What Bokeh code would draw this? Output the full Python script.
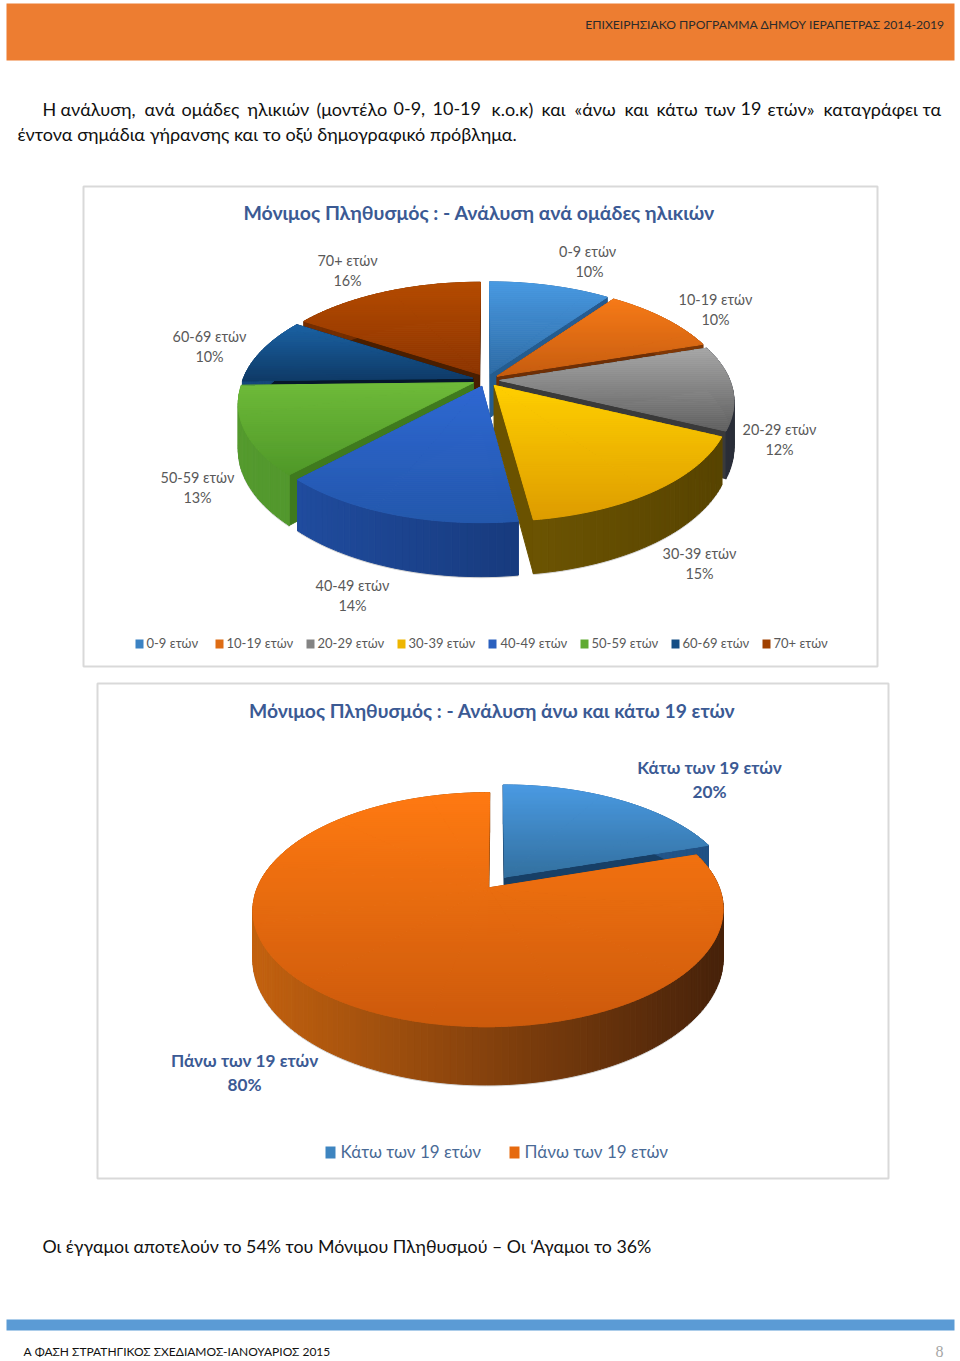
import math
from bokeh.plotting import figure
from bokeh.models import Range1d
from bokeh.core.properties import value
from bokeh.embed import file_html
from bokeh.resources import INLINE

# ---------- data ----------
age_groups = ["0-9  ετών", "10-19 ετών", "20-29 ετών", "30-39 ετών", "40-49 ετών", "50-59 ετών", "60-69 ετών", "70+ ετών"]
age_pct = [10, 10, 12, 15, 14, 13, 10, 16]
split_groups = ["Κάτω των 19 ετών", "Πάνω των 19 ετών"]
split_pct = [20, 80]
title_ages = "Μόνιμος Πληθυσμός :  - Ανάλυση ανά ομάδες ηλικιών"
title_split = "Μόνιμος Πληθυσμός :  - Ανάλυση άνω και κάτω 19 ετών"
header_text = "ΕΠΙΧΕΙΡΗΣΙΑΚΟ ΠΡΟΓΡΑΜΜΑ ΔΗΜΟΥ ΙΕΡΑΠΕΤΡΑΣ 2014-2019"
body_1_words = ["Η", "ανάλυση,", "ανά", "ομάδες", "ηλικιών", "(μοντέλο", "0-9,", "10-19", "κ.ο.κ)", "και", "«άνω", "και", "κάτω", "των", "19", "ετών»", "καταγράφει", "τα"]
body_2 = "έντονα σημάδια γήρανσης και το οξύ δημογραφικό πρόβλημα."
body_3 = "Οι έγγαμοι αποτελούν το 54% του Μόνιμου Πληθυσμού – Οι ‘Αγαμοι το 36%"
footer_text = "Α ΦΑΣΗ ΣΤΡΑΤΗΓΙΚΟΣ ΣΧΕΔΙΑΜΟΣ-ΙΑΝΟΥΑΡΙΟΣ 2015"
page_no = "8"

# ---------- style: top gradient (start,end), wall gradient (left,right), cut face ----------
age_styles = [
    ("#4a9ae2", "#2c6aa4", "#3a7dbb", "#1f4e80", "#245c8f"),
    ("#f67a18", "#c65d10", "#b35210", "#7a3506", "#6e2f06"),
    ("#a8a8a8", "#5f5f5f", "#40444e", "#2a2e38", "#3a3a3a"),
    ("#ffcf00", "#dd9c00", "#8a6c05", "#574300", "#6a5200"),
    ("#2f68d2", "#2458ac", "#2250a6", "#0f2a5e", "#1c468e"),
    ("#6fbb3a", "#4f9828", "#549a2e", "#3f7f24", "#3f7a1e"),
    ("#1b62a4", "#0f3a66", "#16497c", "#0c2a4c", "#06182c"),
    ("#b54c00", "#8c3400", "#7a3000", "#5a2400", "#4a1e00"),
]
split_styles = [
    ("#4a9ae2", "#33709f", "#3a7dbb", "#1f4e80", "#173f66"),
    ("#ff7a12", "#cc5a0c", "#c2610f", "#43200a", "#8a4408"),
]

def hx(c):
    return [int(c[i:i + 2], 16) for i in (1, 3, 5)]

def mix(a, b, t):
    t = max(0.0, min(1.0, t))
    ca, cb = hx(a), hx(b)
    return "#%02x%02x%02x" % tuple(round(u + (v - u) * t) for u, v in zip(ca, cb))

def clip(poly, lim, keep_above):
    out = []
    n = len(poly)
    for i in range(n):
        a, b = poly[i], poly[(i + 1) % n]
        ina = a[1] >= lim if keep_above else a[1] <= lim
        inb = b[1] >= lim if keep_above else b[1] <= lim
        if ina:
            out.append(a)
        if ina != inb:
            t = (lim - a[1]) / (b[1] - a[1])
            out.append((a[0] + (b[0] - a[0]) * t, lim))
    return out

PATCH_X, PATCH_Y, PATCH_C = [], [], []

def add(poly, color):
    PATCH_X.append([q[0] for q in poly])
    PATCH_Y.append([q[1] for q in poly])
    PATCH_C.append(color)

def pie3d(values, styles, cx, cy, rx, ry, persp, depth, expl, warp):
    total = sum(values)

    def view_angle(a):
        # the tilted view slightly drags the front-left of the disc round
        lo, hi = math.radians(115), math.radians(302)
        if warp and lo < a < hi:
            return a + math.radians(warp) * math.sin((a - lo) / (hi - lo) * math.pi)
        return a

    slices, acc = [], 0.0
    for v, st in zip(values, styles):
        a0 = acc / total * 2 * math.pi
        acc += v
        a1 = acc / total * 2 * math.pi
        slices.append((view_angle(a0), view_angle(a1), st))

    def proj(X, Y):
        s = 1 / (1 + persp * Y)
        return (cx + rx * X * s, cy - ry * Y * s, depth * s)

    slices.sort(key=lambda w: -math.cos((w[0] + w[1]) / 2))
    xmin, xmax = cx - rx * 1.05, cx + rx * 1.05
    for a0, a1, st in slices:
        mid = (a0 + a1) / 2
        ox, oy = expl * math.sin(mid), expl * math.cos(mid)
        apex = proj(ox, oy)
        n = max(8, int((a1 - a0) / (2 * math.pi) * 240))
        angs = [a0 + (a1 - a0) * i / n for i in range(n + 1)]
        arc = [proj(ox + math.sin(a), oy + math.cos(a)) for a in angs]
        # soft contact shadow under the front wall
        for i in range(n):
            if math.cos(angs[i]) < 0.1:
                p0, p1 = arc[i], arc[i + 1]
                add([(p0[0], p0[1] + p0[2]), (p1[0], p1[1] + p1[2]), (p1[0], p1[1] + p1[2] + 1), (p0[0], p0[1] + p0[2] + 1)], "#d4d4d4")
        # radial cut faces
        for e in (arc[0], arc[-1]):
            add([(apex[0], apex[1]), (e[0], e[1]), (e[0], e[1] + e[2]), (apex[0], apex[1] + apex[2])], st[4])
        # outer wall
        for i in range(n):
            p0, p1 = arc[i], arc[i + 1]
            t = ((p0[0] + p1[0]) / 2 - xmin) / (xmax - xmin)
            add([(p0[0], p0[1]), (p1[0], p1[1]), (p1[0], p1[1] + p1[2]), (p0[0], p0[1] + p0[2])], mix(st[2], st[3], t))
        # top face in horizontal gradient bands, split into convex sectors
        ys = [apex[1]] + [q[1] for q in arc]
        ymin, ymax = min(ys), max(ys)
        y = ymin
        step = 2.0
        while y < ymax:
            col = mix(st[0], st[1], (y - ymin) / (ymax - ymin))
            chunk = 20
            for k in range(0, n, chunk):
                sector = [(apex[0], apex[1])] + [(q[0], q[1]) for q in arc[k:k + chunk + 1]]
                band = clip(clip(sector, y, True), y + step, False)
                if len(band) >= 3:
                    add(band, col)
            y += step

# ---------- page ----------
p = figure(width=960, height=1361, x_range=Range1d(0, 960), y_range=Range1d(1361, 0),
           output_backend="svg", toolbar_location=None, min_border=0, outline_line_color=None)
p.xaxis.visible = False
p.yaxis.visible = False
p.grid.visible = False
p.background_fill_color = "white"
p.border_fill_color = "white"

FONT = "Lato"

def txt(x, y, s, size, color, align="center", font=FONT, bold=False):
    p.text([x], [y - 1], text=[s], text_font=value(font), text_font_size=f"{size}px", text_color=color,
           text_align=align, text_baseline="middle", text_font_style="bold" if bold else "normal")

# bands
p.quad(left=[6], right=[954], top=[3], bottom=[60], fill_color="#ed7d31", line_color=None)
p.quad(left=[6], right=[954], top=[1319], bottom=[1330], fill_color="#5b9bd5", line_color=None)
txt(944, 25, header_text, 12.15, "#2b2b2b", "right")
word_x = [42, 60, 144, 181, 247, 316, 393, 432, 491, 541, 574, 624, 656, 704, 740, 767, 823, 922]
for bx, word in zip(word_x, body_1_words):
    txt(bx, 109, word, 18, "#111111", "left")
txt(17, 134, body_2, 18, "#111111", "left")
txt(42, 1246, body_3, 17.8, "#111111", "left")
txt(23, 1352, footer_text, 12, "#111111", "left")
txt(939, 1352, page_no, 16, "#a6a6a6", "center", "Liberation Serif")

# chart frames
p.quad(left=[83, 97], right=[877, 888], top=[186, 683], bottom=[666, 1178], fill_color="white",
       line_color="#d9d9d9", line_width=2)

# pies
pie3d(age_pct, age_styles, 485.5, 379.5, 230, 110, 0.175, 44, 0.06, 4)
pie3d(split_pct, split_styles, 496, 882, 229, 111, 0.184, 47, 0.06, 0)
p.patches(PATCH_X, PATCH_Y, fill_color=PATCH_C, line_color=PATCH_C, line_width=1)

# chart 1 texts
TITLE = "#3b5a94"
GREY = "#595959"
txt(481, 213, title_ages, 19.5, TITLE, bold=True)
lab_pos = [(589, 252), (715, 300), (779, 430), (699, 554), (352, 586), (197, 478), (209, 337), (347, 261)]
for (lx, ly), name, pct in zip(lab_pos, age_groups, age_pct):
    txt(lx, ly, name, 14.4, GREY)
    txt(lx, ly + 20, f"{pct}%", 14.4, GREY)
leg_mark = [135, 215, 306, 397, 488, 580, 671, 762]
leg_text = [146, 226, 317, 408, 500, 591, 682, 773]
for mx, tx, name, st in zip(leg_mark, leg_text, age_groups, age_styles):
    p.quad(left=[mx], right=[mx + 8], top=[639], bottom=[648], fill_color=mix(st[0], st[1], 0.5), line_color=None)
    txt(tx, 643, name, 13, GREY, "left")

# chart 2 texts
txt(494, 711, title_split, 19.3, TITLE, bold=True)
lab2 = [(709, 768), (244, 1061)]
for (lx, ly), name, pct in zip(lab2, split_groups, split_pct):
    txt(lx, ly, name, 17.2, TITLE, bold=True)
    txt(lx, ly + 24, f"{pct}%", 17.2, TITLE, bold=True)
for mx, tx, name, st in zip([325, 509], [340, 524], split_groups, split_styles):
    p.quad(left=[mx], right=[mx + 10], top=[1146], bottom=[1158], fill_color=mix(st[0], st[1], 0.5), line_color=None)
    txt(tx, 1152, name, 17, "#4a6a96", "left")

open("out.html", "w").write(file_html(p, INLINE))
